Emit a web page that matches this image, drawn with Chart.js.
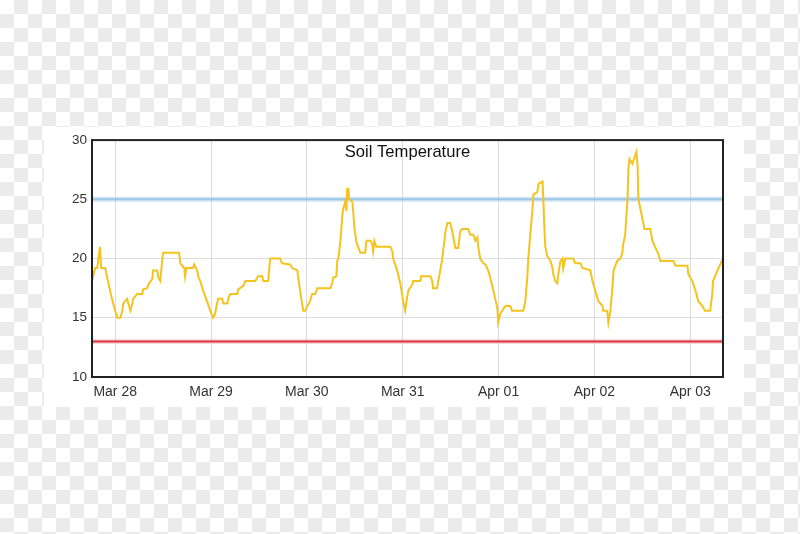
<!DOCTYPE html>
<html>
<head>
<meta charset="utf-8">
<script src="https://cdn.jsdelivr.net/npm/chart.js@4.4.0/dist/chart.umd.min.js"></script>
<style>
  html, body { margin: 0; padding: 0; }
  body {
    width: 800px; height: 534px; overflow: hidden; position: relative;
    background: repeating-conic-gradient(#ebebeb 0 25%, #ffffff 0 50%) 0 0 / 28px 28px;
  }
  #box { position: absolute; left: 44px; top: 127px; width: 700px; height: 280px; background: #fff; }
</style>
</head>
<body>
<div id="box"><canvas id="c" width="700" height="280"></canvas></div>
<script>
// Hours since Mar 28 00:00
const hours = [-5.8,-5.5,-5.0,-4.5,-3.8,-3.5,-2.5,-2.0,-1.3,-0.5,0.5,1.3,1.8,2.0,3.0,3.3,3.8,4.3,4.5,5.5,6.8,7.0,8.0,8.3,9.3,9.5,10.5,10.8,11.3,11.8,12.0,16.0,16.3,17.3,17.5,17.8,19.5,19.8,20.5,20.8,21.3,22.0,23.0,23.8,24.5,25.0,25.5,25.8,26.8,27.1,28.1,28.3,28.8,30.6,30.8,32.1,32.6,35.1,35.8,36.8,37.1,38.3,38.8,41.3,41.8,43.8,44.3,45.6,45.8,46.3,46.8,47.1,47.6,48.1,48.8,49.3,50.1,50.6,53.9,54.4,54.6,55.4,55.6,55.9,56.4,56.9,57.1,57.6,57.9,58.1,58.4,58.6,59.4,59.6,59.9,60.4,60.9,61.4,62.6,62.9,63.9,64.4,64.6,64.9,65.4,68.9,69.4,69.6,70.6,71.4,72.1,72.6,73.1,73.4,74.4,74.6,76.4,76.6,78.9,79.4,79.6,80.6,80.9,81.4,81.9,82.7,83.2,83.9,84.4,85.2,85.9,86.4,86.9,88.4,88.9,89.7,90.2,90.7,90.9,91.4,92.2,92.7,93.4,93.9,94.7,95.7,95.9,96.4,96.9,97.7,98.9,99.4,102.2,102.7,103.2,103.4,104.0,104.5,104.7,105.7,106.0,107.0,107.2,107.5,107.7,108.2,109.0,109.5,109.7,110.2,110.7,111.0,111.5,112.0,112.2,112.7,114.7,115.2,116.5,117.0,119.0,119.5,120.2,121.0,122.0,122.2,123.2,123.5,124.0,124.5,124.8,125.7,126.5,127.0,127.2,127.7,128.3,128.5,128.8,129.5,129.8,130.3,130.5,130.8,131.0,131.5,132.0,132.3,132.5,134.0,134.5,135.3,136.0,136.5,139.8,140.3,143.3,143.5,144.5,145.3,146.0,147.0,147.7,149.0,149.5,149.7,150.8,151.5,152.2];
const soilTemp = [19.0,18.5,19.2,19.2,21.0,19.2,19.2,18.4,17.3,16.2,15.0,15.0,15.6,16.2,16.6,16.2,15.6,16.2,16.6,17.0,17.0,17.4,17.5,17.8,18.3,19.0,19.0,18.4,18.1,20.0,20.5,20.5,19.6,19.2,18.5,19.2,19.2,19.5,19.0,18.5,18.1,17.3,16.4,15.6,15.0,15.3,16.2,16.6,16.6,16.2,16.2,16.6,17.0,17.0,17.4,17.7,18.1,18.1,18.5,18.5,18.1,18.1,20.0,20.0,19.6,19.5,19.2,19.0,18.5,17.3,16.2,15.6,15.6,16.0,16.4,17.0,17.0,17.5,17.5,18.0,18.4,18.5,19.8,20.0,21.5,23.7,24.2,24.8,24.0,25.9,25.9,25.0,24.8,24.0,22.6,21.4,20.9,20.5,20.5,21.5,21.5,21.2,20.6,21.5,21.0,21.0,20.6,20.0,19.0,17.9,16.4,15.6,16.7,17.3,17.8,18.1,18.1,18.5,18.5,18.1,17.5,17.5,18.1,19.0,20.0,22.3,23.0,23.0,22.3,20.9,20.9,22.3,22.5,22.5,22.0,22.0,21.5,21.8,21.0,20.0,19.6,19.5,19.0,18.4,17.3,15.8,14.6,15.3,15.6,16.0,16.0,15.6,15.6,16.4,18.4,19.8,22.3,24.2,25.4,25.6,26.3,26.5,25.1,22.3,21.0,20.2,19.8,19.2,18.7,18.1,17.9,18.8,19.8,20.0,19.2,20.0,20.0,19.6,19.6,19.2,19.0,18.1,17.3,16.4,16.0,15.6,15.6,14.6,15.6,17.5,19.0,19.8,20.0,20.5,21.2,22.0,25.1,27.6,28.4,28.0,28.3,28.8,29.0,27.9,25.1,24.2,23.4,22.9,22.5,22.5,21.5,20.9,20.4,19.8,19.8,19.4,19.4,18.7,18.1,17.3,16.4,16.0,15.6,15.6,17.0,18.1,19.0,19.5,20.0];
const upperLimit = 25;
const lowerLimit = 13;
const xMin = -5.8, xMax = 152.2;
const dayTicks = [0, 24, 48, 72, 96, 120, 144];
const dayLabels = ['Mar 28', 'Mar 29', 'Mar 30', 'Mar 31', 'Apr 01', 'Apr 02', 'Apr 03'];
const yTicks = [10, 15, 20, 25, 30];
const chartTitle = 'Soil Temperature';

const mainData = hours.map((h, i) => ({ x: h, y: soilTemp[i] }));
const hLine = v => [{ x: xMin, y: v }, { x: xMax, y: v }];

const titlePlugin = {
  id: 'inTitle',
  afterDraw(chart) {
    const { ctx, chartArea } = chart;
    ctx.save();
    ctx.font = '16.6px "Liberation Sans", Arial, sans-serif';
    ctx.fillStyle = '#111';
    ctx.textAlign = 'center';
    ctx.textBaseline = 'middle';
    ctx.fillText(chartTitle, (chartArea.left + chartArea.right) / 2, chartArea.top + 12);
    ctx.restore();
  }
};

new Chart(document.getElementById('c'), {
  type: 'line',
  data: {
    datasets: [
      { data: hLine(upperLimit), borderColor: 'rgba(160,200,235,0.45)', borderWidth: 5, pointRadius: 0, order: 5 },
      { data: hLine(upperLimit), borderColor: '#9cc8e8', borderWidth: 2, pointRadius: 0, order: 4 },
      { data: hLine(lowerLimit), borderColor: 'rgba(240,170,175,0.45)', borderWidth: 5, pointRadius: 0, order: 5 },
      { data: hLine(lowerLimit), borderColor: '#d9363e', borderWidth: 2, pointRadius: 0, order: 4 },
      { data: mainData, borderColor: '#f5c31e', borderWidth: 2, pointRadius: 0, tension: 0, order: 1 }
    ]
  },
  options: {
    responsive: false,
    animation: false,
    plugins: { legend: { display: false }, tooltip: { enabled: false }, title: { display: false } },
    layout: { padding: { top: 11, right: 21, left: 0, bottom: 0 } },
    scales: {
      x: {
        type: 'linear', min: xMin, max: xMax,
        afterBuildTicks: s => { s.ticks = dayTicks.map(v => ({ value: v })); },
        afterFit: s => { s.height = 30; },
        ticks: {
          autoSkip: false, maxRotation: 0, padding: 7,
          color: '#333', font: { family: '"Liberation Sans", Arial, sans-serif', size: 14 },
          callback: v => dayLabels[dayTicks.indexOf(v)] || ''
        },
        grid: { color: '#dcdcdc', lineWidth: 1, drawTicks: false },
        border: { color: '#222', width: 2 }
      },
      y: {
        type: 'linear', min: 10, max: 30,
        afterBuildTicks: s => { s.ticks = yTicks.map(v => ({ value: v })); },
        afterFit: s => { s.width = 48; },
        ticks: {
          padding: 5, color: '#333',
          font: { family: '"Liberation Sans", Arial, sans-serif', size: 13.5 }
        },
        grid: { color: '#dcdcdc', lineWidth: 1, drawTicks: false },
        border: { color: '#222', width: 2 }
      }
    }
  },
  plugins: [titlePlugin, {
    id: 'frame',
    afterDatasetsDraw(chart) {
      const { ctx, chartArea: a } = chart;
      ctx.save();
      ctx.strokeStyle = '#222';
      ctx.lineWidth = 2;
      ctx.strokeRect(a.left, a.top, a.right - a.left, a.bottom - a.top);
      ctx.restore();
    }
  }]
});
</script>
</body>
</html>
